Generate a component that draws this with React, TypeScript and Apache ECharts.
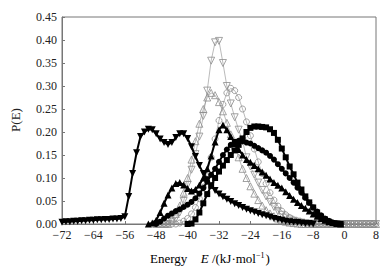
import React, { useEffect, useRef } from "react";
import * as echarts from "echarts";

// Energy axis ticks (kJ/mol)
const xMin = -72;
const xMax = 8;
const xStep = 8;
const yMin = 0;
const yMax = 0.45;
const yStep = 0.05;

// Each series: start energy, then one value per 1 kJ/mol
const downTriStart = -72;
const downTriValues = [
  0.004, 0.005, 0.005, 0.006, 0.006, 0.007, 0.007, 0.008, 0.008, 0.009, 0.009, 0.01, 0.01, 0.011, 0.011, 0.012,
  0.016, 0.06, 0.11, 0.155, 0.19, 0.2, 0.206, 0.205, 0.196, 0.185, 0.177, 0.173, 0.177, 0.188, 0.196, 0.196,
  0.186, 0.168, 0.147, 0.127, 0.11, 0.096, 0.083, 0.073, 0.065, 0.059, 0.054, 0.049, 0.044, 0.04, 0.036, 0.032,
  0.029, 0.026, 0.023, 0.02, 0.018, 0.015, 0.012, 0.01, 0.008, 0.006, 0.005, 0.004, 0.003, 0.002, 0.001, 0.001, 0,
];

const upTriStart = -50;
const upTriValues = [
  0, 0.002, 0.008, 0.025, 0.045, 0.063, 0.078, 0.088, 0.09, 0.085, 0.077, 0.072, 0.075, 0.085, 0.1, 0.12,
  0.148, 0.178, 0.205, 0.215, 0.205, 0.19, 0.175, 0.162, 0.15, 0.14, 0.134, 0.127, 0.12, 0.113, 0.106, 0.098,
  0.09, 0.084, 0.078, 0.07, 0.062, 0.054, 0.047, 0.04, 0.034, 0.028, 0.022, 0.017, 0.012, 0.008, 0.005, 0.003,
  0.001, 0,
];

const squareStart = -40;
const squareValues = [
  0, 0.001, 0.01, 0.025, 0.045, 0.065, 0.083, 0.1, 0.114, 0.127, 0.139, 0.15, 0.16, 0.172, 0.186, 0.2,
  0.209, 0.212, 0.212, 0.211, 0.21, 0.206, 0.198, 0.183, 0.164, 0.145, 0.125, 0.108, 0.09, 0.075, 0.06, 0.047,
  0.036, 0.025, 0.016, 0.01, 0.005, 0.002, 0.001, 0,
];

const circleStart = -48;
const circleValues = [
  0, 0.005, 0.012, 0.018, 0.023, 0.028, 0.032, 0.037, 0.042, 0.048, 0.056, 0.066, 0.078, 0.092, 0.107, 0.12,
  0.135, 0.15, 0.162, 0.172, 0.179, 0.181, 0.18, 0.177, 0.175, 0.17, 0.165, 0.16, 0.155, 0.148, 0.14, 0.13,
  0.12, 0.11, 0.1, 0.09, 0.079, 0.068, 0.057, 0.046, 0.036, 0.027, 0.019, 0.012, 0.007, 0.003, 0.001, 0,
];

const openDownStart = -48;
const openDownValues = [
  0, 0, 0, 0, 0.005, 0.012, 0.025, 0.05, 0.085, 0.118, 0.152, 0.19, 0.235, 0.29, 0.355, 0.395,
  0.398, 0.35, 0.3, 0.262, 0.232, 0.205, 0.18, 0.145, 0.125, 0.107, 0.09, 0.074, 0.06, 0.048, 0.037, 0.028,
  0.02, 0.014, 0.01, 0.007, 0.005, 0.003, 0.002, 0.001, 0, 0, 0, 0, 0, 0, 0, 0,
  0, 0, 0, 0, 0, 0, 0, 0, 0,
];

const openUpStart = -48;
const openUpValues = [
  0, 0, 0, 0, 0.01, 0.022, 0.04, 0.068, 0.1, 0.14, 0.18, 0.218, 0.25, 0.275, 0.285, 0.28,
  0.265, 0.245, 0.22, 0.195, 0.17, 0.145, 0.12, 0.1, 0.082, 0.066, 0.052, 0.04, 0.03, 0.023, 0.017, 0.012,
  0.008, 0.005, 0.003, 0.002, 0.001, 0, 0, 0, 0, 0, 0, 0, 0, 0, 0, 0,
  0, 0, 0, 0, 0, 0, 0, 0, 0,
];

const openCircleStart = -48;
const openCircleValues = [
  0, 0, 0, 0, 0, 0, 0.002, 0.006, 0.012, 0.022, 0.036, 0.055, 0.08, 0.11, 0.145, 0.185,
  0.225, 0.26, 0.285, 0.295, 0.29, 0.275, 0.25, 0.222, 0.192, 0.163, 0.135, 0.11, 0.088, 0.068, 0.052, 0.039,
  0.028, 0.02, 0.014, 0.009, 0.006, 0.004, 0.002, 0.001, 0, 0, 0, 0, 0, 0, 0, 0,
  0, 0, 0, 0, 0, 0, 0, 0, 0,
];

const toPairs = (start: number, vals: number[]) => vals.map((v, i) => [start + i, v]);

const FONT = "Liberation Serif";
const GREY = "#8c8c8c";

export default function App() {
  const ref = useRef<HTMLDivElement>(null);
  useEffect(() => {
    if (!ref.current) return;
    const chart = echarts.init(ref.current, undefined, { renderer: "svg" });

    const openSeries = (name: string, start: number, vals: number[], symbol: string, rotate = 0, size = 6) => ({
      name,
      type: "line",
      data: toPairs(start, vals),
      symbol,
      symbolRotate: rotate,
      symbolSize: size,
      showAllSymbol: true,
      lineStyle: { color: GREY, width: 0.6 },
      itemStyle: { color: "rgba(255,255,255,0)", borderColor: GREY, borderWidth: 0.8 },
      z: 2,
    });
    const blackSeries = (name: string, start: number, vals: number[], symbol: string, rotate = 0, size = 5) => ({
      name,
      type: "line",
      data: toPairs(start, vals),
      symbol,
      symbolRotate: rotate,
      symbolSize: size,
      showAllSymbol: true,
      lineStyle: { color: "#000", width: 2 },
      itemStyle: { color: "#000", borderWidth: 0 },
      z: 3,
    });

    chart.setOption({
      animation: false,
      grid: { left: 62, right: 14, top: 17, bottom: 46, show: true, borderColor: "#777", borderWidth: 1 },
      xAxis: {
        type: "value",
        min: xMin,
        max: xMax,
        interval: xStep,
        axisLine: { show: true, onZero: false, lineStyle: { color: "#777" } },
        axisTick: { show: true, inside: true, length: 3, lineStyle: { color: "#777" } },
        splitLine: { show: false },
        axisLabel: {
          fontFamily: FONT,
          fontSize: 12,
          color: "#222",
          margin: 5,
          formatter: (v: number) => (v < 0 ? "\u2212" + Math.abs(v) : String(v)),
        },
      },
      yAxis: {
        type: "value",
        min: yMin,
        max: yMax,
        interval: yStep,
        axisLine: { show: true, onZero: false, lineStyle: { color: "#777" } },
        axisTick: { show: true, inside: true, length: 3, lineStyle: { color: "#777" } },
        splitLine: { show: false },
        axisLabel: {
          fontFamily: FONT,
          fontSize: 12,
          color: "#222",
          margin: 5,
          formatter: (v: number) => v.toFixed(2),
        },
      },
      graphic: [
        {
          type: "text",
          x: 15,
          y: 120,
          rotation: Math.PI / 2,
          style: {
            text: "P(E)",
            font: `13px ${FONT}`,
            fill: "#222",
            textAlign: "center",
            textVerticalAlign: "middle",
          },
        },
        {
          type: "text",
          x: 150,
          y: 258,
          style: {
            text: "{n|Energy}    {i|E} {n|/(kJ·mol}{s|\u22121}{n|)}",
            textVerticalAlign: "middle",
            rich: {
              n: { fontFamily: FONT, fontSize: 13, color: "#222" },
              i: { fontFamily: FONT, fontSize: 13, fontStyle: "italic", color: "#222" },
              s: { fontFamily: FONT, fontSize: 8, color: "#222", verticalAlign: "top", padding: [0, 1, 6, 0] },
            },
          },
        },
      ],
      series: [
        openSeries("open-circle", openCircleStart, openCircleValues, "circle", 0, 6),
        openSeries("open-up", openUpStart, openUpValues, "triangle", 0, 7),
        openSeries("open-down", openDownStart, openDownValues, "triangle", 180, 7),
        blackSeries("circle", circleStart, circleValues, "circle", 0, 6),
        blackSeries("square", squareStart, squareValues, "rect", 0, 6),
        blackSeries("up", upTriStart, upTriValues, "triangle", 0, 7),
        blackSeries("down", downTriStart, downTriValues, "triangle", 180, 7),
      ],
    });
    return () => chart.dispose();
  }, []);
  return <div ref={ref} style={{ width: 390, height: 270, position: "absolute", left: 0, top: 0 }} />;
}
